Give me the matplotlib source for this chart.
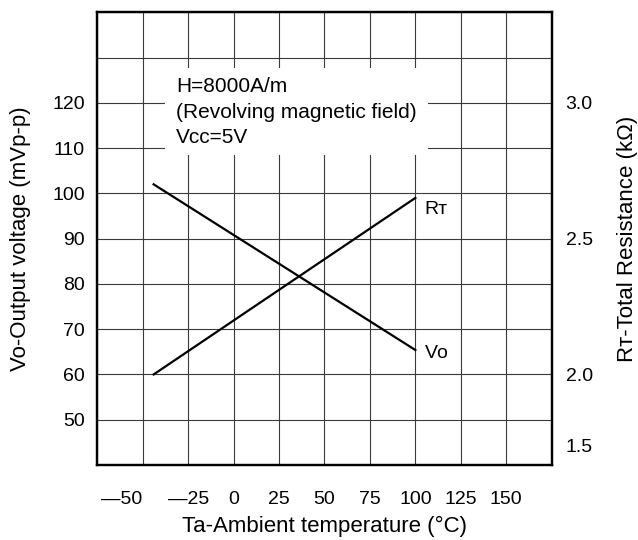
import matplotlib
matplotlib.use("Agg")
import matplotlib.pyplot as plt
from matplotlib.patches import Rectangle

plt.rcParams['font.family'] = ['Liberation Sans', 'DejaVu Sans']

# ---- data ----
temp_vo = [-44, 100]
vo_values = [102.0, 65.4]          # mVp-p
temp_rt = [-44, 100]
rt_values = [2.00, 2.65]           # kOhm

x_ticks = [-50, -25, 0, 25, 50, 75, 100, 125, 150]
x_ticklabels = ['—50', '—25', '0', '25', '50', '75', '100', '125', '150']
left_ticks = [50, 60, 70, 80, 90, 100, 110, 120]
right_tick_labels = ['1.5', '2.0', '2.5', '3.0']
right_tick_pos = [1.74, 2.0, 2.5, 3.0]

annotation = "H=8000A/m\n(Revolving magnetic field)\nVcc=5V"

# ---- figure ----
fig = plt.figure(figsize=(6.38, 5.40), dpi=100)
ax = fig.add_axes([0.1525, 0.1389, 0.7122, 0.8383])
fs = 14
fs_lab = 16
fs_ann = 15

ax.set_xlim(-75, 175)
ax.set_ylim(40, 140)
ax.grid(True, color='#3a3a3a', linewidth=0.8)
ax.set_axisbelow(True)

ax.set_xticks(x_ticks + [-75, 175])
ax.set_xticklabels(x_ticklabels + ['', ''])
ax.set_yticks(left_ticks + [40, 130, 140])
ax.set_yticklabels([str(v) for v in left_ticks] + ['', '', ''])
ax.tick_params(axis='x', length=0, pad=19, labelsize=fs)
ax.tick_params(axis='y', length=0, pad=9, labelsize=fs)
ax.get_xticklabels()[0].set_horizontalalignment('right')

for s in ax.spines.values():
    s.set_linewidth(1.6)
    s.set_color('black')

# white box behind annotation text
ax.add_patch(Rectangle((-37.6, 108.4), 144.6, 19.2, facecolor='white',
                       edgecolor='none', zorder=1))
ax.text(-31.6, 125.6, annotation, fontsize=fs_ann, va='top', ha='left',
        linespacing=1.41, zorder=3)

ax.plot(temp_vo, vo_values, color='black', linewidth=1.6, zorder=2)

ax.set_xlabel('Ta-Ambient temperature (°C)', fontsize=fs_lab)
ax.xaxis.set_label_coords(0.5, -0.112)
ax.set_ylabel('Vo-Output voltage (mVp-p)', fontsize=fs_lab)
ax.yaxis.set_label_coords(-0.147, 0.5)

ax.text(105, 64.7, 'Vᴏ', fontsize=fs, va='center', ha='left')

# right axis
def v_to_r(v):
    return 2.0 + (v - 60) / 60.0

ax2 = ax.twinx()
ax2.set_ylim(v_to_r(40), v_to_r(140))
ax2.set_yticks(right_tick_pos)
ax2.set_yticklabels(right_tick_labels)
ax2.tick_params(axis='y', length=0, pad=10, labelsize=fs)
for s in ax2.spines.values():
    s.set_linewidth(1.6)
ax2.plot(temp_rt, rt_values, color='black', linewidth=1.6)
ax2.text(105, v_to_r(96.4), 'Rᴛ', fontsize=fs, va='center', ha='left')
ax2.set_ylabel('Rᴛ-Total Resistance (kΩ)', fontsize=fs_lab)
ax2.yaxis.set_label_coords(1.143, 0.5)

fig.savefig('out.png', dpi=100)
